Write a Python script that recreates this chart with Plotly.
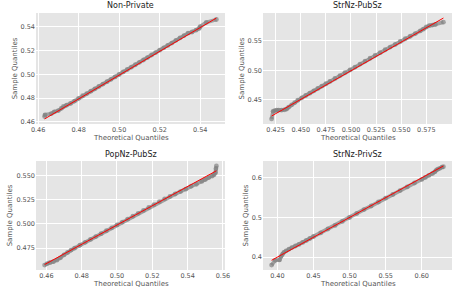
import plotly.graph_objects as go

# ---- data ----
titles = ["Non-Private", "StrNz-PubSz", "PopNz-PubSz", "StrNz-PrivSz"]
x_title = "Theoretical Quantiles"
y_title = "Sample Quantiles"

np_theo = [0.4632, 0.4634, 0.4665, 0.468, 0.470, 0.4715, 0.4725, 0.474, 0.476, 0.478, 0.480, 0.482,
           0.484, 0.486, 0.488, 0.490, 0.492, 0.494, 0.496, 0.498, 0.500, 0.502, 0.504, 0.506, 0.508,
           0.510, 0.512, 0.514, 0.516, 0.518, 0.520, 0.522, 0.524, 0.526, 0.528, 0.530, 0.532, 0.534,
           0.536, 0.538, 0.5395, 0.540, 0.543, 0.548]
np_samp = [0.4645, 0.466, 0.467, 0.4685, 0.4695, 0.4715, 0.4730, 0.4740, 0.4755, 0.4775, 0.4798, 0.4820,
           0.4838, 0.4858, 0.4878, 0.4898, 0.4918, 0.4938, 0.4958, 0.4978, 0.4998, 0.5020, 0.5040, 0.5060,
           0.5080, 0.5100, 0.5120, 0.5140, 0.5162, 0.5182, 0.5202, 0.5222, 0.5242, 0.5262, 0.5285, 0.5305,
           0.5325, 0.5345, 0.5355, 0.5370, 0.5385, 0.5400, 0.5435, 0.5460]
np_line_x = [0.4632, 0.548]
np_line_y = [0.4625, 0.5472]

sp_theo = [0.421, 0.4225, 0.424, 0.426, 0.428, 0.431, 0.434, 0.436, 0.438, 0.441, 0.444, 0.447, 0.451,
           0.455, 0.459, 0.463, 0.467, 0.471, 0.475, 0.479, 0.484, 0.489, 0.494, 0.499, 0.504, 0.509,
           0.514, 0.519, 0.524, 0.529, 0.534, 0.539, 0.544, 0.549, 0.554, 0.559, 0.564, 0.569, 0.572,
           0.575, 0.578, 0.581, 0.584, 0.592]
sp_samp = [0.417, 0.430, 0.431, 0.432, 0.432, 0.432, 0.4325, 0.434, 0.437, 0.441, 0.445, 0.449, 0.453,
           0.457, 0.461, 0.465, 0.469, 0.473, 0.477, 0.481, 0.486, 0.491, 0.496, 0.5005, 0.5055, 0.5105,
           0.5155, 0.5205, 0.5255, 0.530, 0.535, 0.5395, 0.544, 0.549, 0.554, 0.558, 0.5625, 0.567, 0.570,
           0.574, 0.576, 0.577, 0.578, 0.582]
sp_line_x = [0.421, 0.592]
sp_line_y = [0.422, 0.589]

pp_theo = [0.459, 0.4605, 0.462, 0.464, 0.466, 0.468, 0.470, 0.472, 0.474, 0.476, 0.479, 0.482, 0.485,
           0.488, 0.491, 0.494, 0.497, 0.500, 0.503, 0.506, 0.509, 0.512, 0.515, 0.518, 0.521, 0.524,
           0.527, 0.530, 0.533, 0.536, 0.539, 0.542, 0.545, 0.548, 0.550, 0.552, 0.554, 0.555, 0.5558,
           0.556, 0.5563]
pp_samp = [0.4575, 0.459, 0.460, 0.461, 0.4625, 0.465, 0.468, 0.4705, 0.473, 0.475, 0.478, 0.481, 0.484,
           0.487, 0.490, 0.493, 0.496, 0.499, 0.502, 0.505, 0.508, 0.511, 0.514, 0.517, 0.520, 0.523,
           0.526, 0.5285, 0.531, 0.5335, 0.536, 0.539, 0.541, 0.544, 0.546, 0.548, 0.5495, 0.551, 0.553,
           0.557, 0.560]
pp_line_x = [0.459, 0.5563]
pp_line_y = [0.458, 0.555]

sv_theo = [0.392, 0.397, 0.403, 0.405, 0.407, 0.409, 0.412, 0.416, 0.420, 0.425, 0.430, 0.435, 0.440,
           0.445, 0.450, 0.460, 0.470, 0.480, 0.490, 0.500, 0.510, 0.520, 0.530, 0.540, 0.550, 0.560,
           0.570, 0.580, 0.590, 0.600, 0.605, 0.610, 0.615, 0.618, 0.620, 0.622, 0.625, 0.628, 0.630]
sv_samp = [0.380, 0.392, 0.393, 0.402, 0.407, 0.412, 0.416, 0.420, 0.424, 0.428, 0.432, 0.437, 0.442,
           0.447, 0.452, 0.461, 0.471, 0.480, 0.490, 0.500, 0.510, 0.520, 0.529, 0.539, 0.549, 0.558,
           0.568, 0.577, 0.587, 0.596, 0.601, 0.606, 0.611, 0.615, 0.619, 0.622, 0.624, 0.627, 0.628]
sv_line_x = [0.392, 0.630]
sv_line_y = [0.392, 0.630]

x_dticks = [0.02, 0.025, 0.02, 0.05]
x_formats = [".2f", ".3f", ".2f", ".2f"]
y_dticks = [0.02, 0.05, 0.025, 0.1]
y_formats = [".2f", ".2f", ".3f", ".1f"]

panels = [(np_theo, np_samp, np_line_x, np_line_y), (sp_theo, sp_samp, sp_line_x, sp_line_y),
          (pp_theo, pp_samp, pp_line_x, pp_line_y), (sv_theo, sv_samp, sv_line_x, sv_line_y)]

W, H = 456, 293
# pixel boxes of each plotting area (left, right, top, bottom)
boxes = [(36, 225, 13, 124), (263, 452, 13, 124), (36, 225, 161, 270), (263, 452, 161, 270)]

fig = go.Figure()
FONT = "DejaVu Sans"
GRAY = "rgba(128,128,128,0.68)"
LBL = "#555555"
for i, ((tx, sy, lx, lyy), (l, r, t, b)) in enumerate(zip(panels, boxes)):
    n = i + 1
    xa = "x" if n == 1 else f"x{n}"
    ya = "y" if n == 1 else f"y{n}"
    fig.add_trace(go.Scatter(x=tx, y=sy, mode="lines+markers", xaxis=xa, yaxis=ya,
                             line=dict(color=GRAY, width=3.8),
                             marker=dict(size=4.8, color=GRAY, line=dict(width=0)),
                             showlegend=False, hoverinfo="skip", cliponaxis=False))
    fig.add_trace(go.Scatter(x=lx, y=lyy, mode="lines", xaxis=xa, yaxis=ya,
                             line=dict(color="red", width=1), showlegend=False, hoverinfo="skip"))
    allx = list(tx) + list(lx)
    ally = list(sy) + list(lyy)
    xmn, xmx = min(allx), max(allx)
    ymn, ymx = min(ally), max(ally)
    mx = (xmx - xmn) * 0.05
    my = (ymx - ymn) * 0.05
    common = dict(showgrid=True, gridcolor="white", gridwidth=1, zeroline=False, showline=False,
                  ticks="", automargin=False, tickfont=dict(family=FONT, size=6.5, color=LBL))
    fig.layout[f"xaxis{'' if n == 1 else n}"] = dict(
        domain=[l / W, r / W], anchor=ya, range=[xmn - mx, xmx + mx],
        dtick=x_dticks[i], tick0=0, tickformat=x_formats[i],
        **common)
    fig.layout[f"yaxis{'' if n == 1 else n}"] = dict(
        domain=[1 - b / H, 1 - t / H], anchor=xa, range=[ymn - my, ymx + my],
        dtick=y_dticks[i], tick0=0, tickformat=y_formats[i],
        title=dict(text=y_title, font=dict(family=FONT, size=7, color=LBL), standoff=2),
        **common)
    fig.add_annotation(text=titles[i], x=(l + r) / 2 / W, y=1 - (t - 7) / H, xref="paper", yref="paper",
                       xanchor="center", yanchor="middle", showarrow=False,
                       font=dict(family=FONT, size=8, color="#222222"))
    fig.add_annotation(text=x_title, x=(l + r) / 2 / W, y=1 - (b + 14) / H, xref="paper", yref="paper",
                       xanchor="center", yanchor="middle", showarrow=False,
                       font=dict(family=FONT, size=7, color=LBL))

fig.update_layout(width=W, height=H, margin=dict(l=0, r=0, t=0, b=0),
                  paper_bgcolor="white", plot_bgcolor="#E5E5E5")
fig.write_html("out.html", config={"displayModeBar": False},
               post_script="document.body.style.margin='0';")
